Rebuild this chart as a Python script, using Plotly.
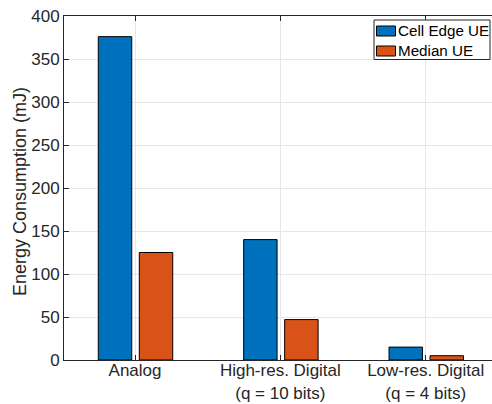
import plotly.graph_objects as go

# Energy consumption per receiver architecture
categories = ["Analog", "High-res. Digital<br>(q = 10 bits)", "Low-res. Digital<br>(q = 4 bits)"]
cell_edge_ue = [376, 140, 15]
median_ue = [125, 47, 5]
series_names = ["Cell Edge UE", "Median UE"]
series_colors = ["#0072BD", "#D95319"]
y_ticks = [0, 50, 100, 150, 200, 250, 300, 350, 400]
y_title = "Energy Consumption (mJ)"

FONT = "Liberation Sans, Arial, Helvetica, sans-serif"
AX = "#262626"
GRID = "#e6e6e6"

W, H = 492, 404
ML, MR, MT, MB = 64, 0, 16, 44
PW, PH = W - ML - MR, H - MT - MB

x_pos = [1, 2, 3]
BAR_W = 0.23
offsets = [-0.2525, 0.0296]

fig = go.Figure()
for name, vals, col, off in zip(series_names, [cell_edge_ue, median_ue], series_colors, offsets):
    fig.add_trace(go.Bar(
        x=x_pos, y=vals, name=name, width=BAR_W, offset=off,
        marker=dict(color=col, line=dict(color="#000000", width=1)),
        showlegend=False,
    ))

# helpers: pixel position -> paper units
def px(x):
    return (x - ML) / PW

def py(y):
    return (H - MB - y) / PH

# Boxed legend in the upper-right corner
shapes = [dict(type="rect", xref="paper", yref="paper",
               x0=px(374), x1=px(490), y0=py(59.5), y1=py(20),
               fillcolor="white", line=dict(color=AX, width=1), layer="above")]
annotations = []
row_centers = [31, 51]
for name, col, yc in zip(series_names, series_colors, row_centers):
    shapes.append(dict(type="rect", xref="paper", yref="paper",
                       x0=px(376.5), x1=px(395.5), y0=py(yc + 5), y1=py(yc - 5),
                       fillcolor=col, line=dict(color="#000000", width=1), layer="above"))
    annotations.append(dict(text=name, xref="paper", yref="paper",
                            x=px(395.5), y=py(yc), xanchor="left", yanchor="middle",
                            showarrow=False,
                            font=dict(family=FONT, size=15.2, color="#000000")))

# Y-axis title
annotations.append(dict(text=y_title, xref="paper", yref="paper",
                        x=px(20), y=py(192), xanchor="center", yanchor="middle",
                        textangle=-90, showarrow=False,
                        font=dict(family=FONT, size=18, color=AX)))

fig.update_layout(
    width=W, height=H, autosize=False,
    margin=dict(l=ML, r=MR, t=MT, b=MB),
    paper_bgcolor="white", plot_bgcolor="white",
    barmode="overlay",
    font=dict(family=FONT, size=17, color=AX),
    showlegend=False,
    shapes=shapes, annotations=annotations,
)

fig.update_xaxes(
    range=[0.5115, 3.456],
    tickvals=x_pos, ticktext=categories,
    ticks="inside", ticklen=5, tickcolor=AX,
    showline=True, linecolor=AX, linewidth=1, mirror="ticks",
    showgrid=True, gridcolor=GRID, gridwidth=1,
    tickfont=dict(family=FONT, size=17, color=AX),
    ticklabelstandoff=-5,
    zeroline=False, automargin=False,
)
fig.update_yaxes(
    range=[0, 400],
    tickvals=y_ticks,
    ticks="inside", ticklen=5, tickcolor=AX,
    showline=True, linecolor=AX, linewidth=1,
    showgrid=True, gridcolor=GRID, gridwidth=1,
    tickfont=dict(family=FONT, size=17, color=AX),
    zeroline=False, automargin=False,
)

fig.write_html("out.html")
